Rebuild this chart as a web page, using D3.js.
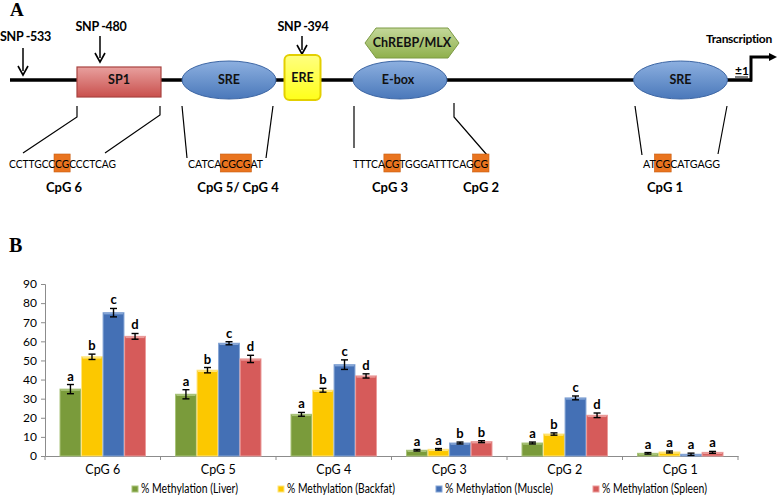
<!DOCTYPE html>
<html>
<head>
<meta charset="utf-8">
<script src="https://cdn.jsdelivr.net/npm/d3@7"></script>
<style>
  body { margin: 0; background: #fff; }
  svg { font-family: Lato, "Open Sans", sans-serif; }
</style>
</head>
<body>
<script>
// data for panel B
var categories = ["CpG 6", "CpG 5", "CpG 4", "CpG 3", "CpG 2", "CpG 1"];
var tissues = ["% Methylation (Liver)", "% Methylation (Backfat)", "% Methylation (Muscle)", "% Methylation (Spleen)"];
var liver   = [35.0, 32.3, 21.8, 3.0, 6.8, 1.4];
var backfat = [51.9, 44.9, 34.4, 3.5, 11.5, 2.1];
var muscle  = [75.0, 59.0, 47.8, 6.8, 30.4, 0.9];
var spleen  = [62.6, 50.8, 41.9, 7.5, 21.3, 1.9];
var liverErr   = [2.4, 2.4, 1.0, 0.4, 0.5, 0.4];
var backfatErr = [1.4, 1.4, 1.0, 0.4, 0.6, 0.5];
var muscleErr  = [2.2, 0.8, 2.5, 0.5, 1.0, 0.6];
var spleenErr  = [1.5, 1.9, 1.1, 0.5, 1.2, 0.5];
var letters = [["a","b","c","d"], ["a","b","c","d"], ["a","b","c","d"], ["a","a","b","b"], ["a","b","c","d"], ["a","a","a","a"]];
var yTicks = [0, 10, 20, 30, 40, 50, 60, 70, 80, 90];

var values = [liver, backfat, muscle, spleen];
var errors = [liverErr, backfatErr, muscleErr, spleenErr];
var colors = ["#7a9b3b", "#fcc800", "#4470b5", "#d65b5a"];
var edge = ["#a9c47a", "#ffe680", "#86a6d6", "#eb9c9b"];

var width = 778, height = 497;
var svg = d3.select("body").append("svg").attr("width", width).attr("height", height);
var defs = svg.append("defs");

function vGrad(id, c1, c2) {
    var g = defs.append("linearGradient").attr("id", id).attr("x1", 0).attr("y1", 0).attr("x2", 0).attr("y2", 1);
    g.append("stop").attr("offset", "0%").attr("stop-color", c1);
    g.append("stop").attr("offset", "100%").attr("stop-color", c2);
}
vGrad("gRed", "#e8a09e", "#c9504d");
vGrad("gBlue", "#8db0e0", "#4a78ba");
vGrad("gGreen", "#c4d89a", "#8fb04c");
vGrad("gYellow", "#ffff80", "#ffff1a");

// ---------- Panel A : promoter schematic ----------
var A = svg.append("g");
A.append("text").attr("x", 10).attr("y", 16).attr("font-family", "Liberation Serif, serif")
    .attr("font-weight", "bold").attr("font-size", 19).text("A");

var lineY = 80;
A.append("line").attr("x1", 10).attr("x2", 752).attr("y1", lineY).attr("y2", lineY)
    .attr("stroke", "#000").attr("stroke-width", 3.5);
// transcription start arrow
A.append("path").attr("d", "M751,81.5 V57 H770").attr("fill", "none").attr("stroke", "#000").attr("stroke-width", 3);
A.append("path").attr("d", "M769,53 L777,57 L769,61 Z").attr("fill", "#000");
A.append("text").attr("x", 735).attr("y", 75).attr("font-weight", "bold").attr("font-size", 12).text("±1");
A.append("line").attr("x1", 735).attr("x2", 748).attr("y1", 77).attr("y2", 77).attr("stroke", "#000").attr("stroke-width", 1);
A.append("text").attr("x", 739).attr("y", 43).attr("text-anchor", "middle").attr("font-weight", "bold")
    .attr("font-size", 12).attr("letter-spacing", -0.3).text("Transcription");

// SNP arrows
var snps = [{label: "SNP -533", x: 23, ty: 41, y1: 48, y2: 75},
            {label: "SNP -480", x: 100, ty: 31, y1: 36, y2: 62},
            {label: "SNP -394", x: 302, ty: 31, y1: 36, y2: 54}];
snps.forEach(function (s, i) {
    A.append("text").attr("x", i == 0 ? 0 : s.x + 1).attr("y", s.ty).attr("text-anchor", i == 0 ? "start" : "middle")
        .attr("font-weight", "bold").attr("font-size", 12.5).attr("letter-spacing", -0.3).text(s.label);
    A.append("line").attr("x1", s.x).attr("x2", s.x).attr("y1", s.y1).attr("y2", s.y2 - 4)
        .attr("stroke", "#000").attr("stroke-width", 1.5);
    A.append("path").attr("d", "M" + (s.x - 5) + "," + (s.y2 - 9) + " L" + s.x + "," + s.y2 + " L" + (s.x + 5) + "," + (s.y2 - 9))
        .attr("fill", "none").attr("stroke", "#000").attr("stroke-width", 1.6);
});

// SP1 box
A.append("rect").attr("x", 77).attr("y", 67).attr("width", 84).attr("height", 30)
    .attr("fill", "url(#gRed)").attr("stroke", "#a84340").attr("stroke-width", 1.2);
// ellipses
[229, 400, 680.5].forEach(function (cx) {
    A.append("ellipse").attr("cx", cx).attr("cy", lineY).attr("rx", 47).attr("ry", 19)
        .attr("fill", "url(#gBlue)").attr("stroke", "#3d66a4").attr("stroke-width", 1);
});
// ERE box
A.append("rect").attr("x", 284.5).attr("y", 55).attr("width", 36).attr("height", 45).attr("rx", 5)
    .attr("fill", "url(#gYellow)").attr("stroke", "#e3cf00").attr("stroke-width", 2);
// ChREBP/MLX hexagon
A.append("path").attr("d", "M365,43 L376,28 L448,28 L459,43 L448,58 L376,58 Z")
    .attr("fill", "url(#gGreen)").attr("stroke", "#7c9a45").attr("stroke-width", 1);

var boxLabels = [{x: 119, y: 80, t: "SP1"}, {x: 229, y: 80, t: "SRE"}, {x: 302.5, y: 78, t: "ERE"},
                 {x: 398, y: 80, t: "E-box"}, {x: 412, y: 43, t: "ChREBP/MLX"}, {x: 680.5, y: 80, t: "SRE"}];
boxLabels.forEach(function (b) {
    A.append("text").attr("x", b.x).attr("y", b.y).attr("dy", "0.35em").attr("text-anchor", "middle")
        .attr("font-weight", "bold").attr("font-size", 12.5).attr("fill", "#111").text(b.t);
});

// connector lines
var connectors = ["M77,106 V117 L23,153", "M160,106 V115 L105,153", "M182,106 L187,158", "M273,106 L266,158",
                  "M354,106 V148", "M454,103 V117 L487,155", "M635,106 L642,155", "M727,106 L718,154"];
connectors.forEach(function (d) {
    A.append("path").attr("d", d).attr("fill", "none").attr("stroke", "#000").attr("stroke-width", 1.2);
});

// sequences with highlighted CG
var seqs = [{x: 9, w: 107, parts: ["CCTTGCC", "CG", "CCCTCAG"]},
            {x: 188, w: 75, parts: ["CATCA", "CGCG", "AT"]},
            {x: 353, w: 135, parts: ["TTTCA", "CG", "TGGGATTTCAG", "CG"]},
            {x: 643, w: 77, parts: ["AT", "CG", "CATGAGG"]}];
seqs.forEach(function (s) {
    var hl = A.append("g");
    var t = A.append("text").attr("x", s.x).attr("y", 168).attr("font-size", 12)
        .attr("textLength", s.w).attr("lengthAdjust", "spacingAndGlyphs").text(s.parts.join(""));
    var pos = 0;
    s.parts.forEach(function (p, i) {
        if (i % 2 == 1) {
            var x0 = t.node().getStartPositionOfChar(pos).x;
            var x1 = t.node().getEndPositionOfChar(pos + p.length - 1).x;
            hl.append("rect").attr("x", x0 - 1).attr("y", 154).attr("width", x1 - x0 + 2).attr("height", 18)
                .attr("fill", "#e9741f").attr("stroke", "#c85e12").attr("stroke-width", 0.6);
        }
        pos += p.length;
    });
});
var cpgLabels = [{x: 64, t: "CpG 6"}, {x: 238, t: "CpG 5/ CpG 4"}, {x: 390, t: "CpG 3"}, {x: 481, t: "CpG 2"}, {x: 665, t: "CpG 1"}];
cpgLabels.forEach(function (c) {
    A.append("text").attr("x", c.x).attr("y", 192).attr("text-anchor", "middle").attr("font-weight", "bold")
        .attr("font-size", 13).text(c.t);
});

// ---------- Panel B : bar chart ----------
svg.append("text").attr("x", 9).attr("y", 252).attr("font-family", "Liberation Serif, serif")
    .attr("font-weight", "bold").attr("font-size", 20).text("B");

var chartLeft = 45, chartRight = 738, chartTop = 284, chartBottom = 456;
var chart = svg.append("g");
var x0 = d3.scaleBand().domain(categories).range([chartLeft, chartRight]);
var x1 = d3.scaleBand().domain(tissues).range([15, x0.bandwidth() - 15]).paddingInner(0.03);
var y = d3.scaleLinear().domain([0, 90]).range([chartBottom, chartTop]);

var yAxis = chart.append("g").attr("transform", "translate(" + chartLeft + ",0)")
    .call(d3.axisLeft(y).tickValues(yTicks).tickSize(4).tickPadding(4));
yAxis.select(".domain").attr("stroke", "#8c8c8c");
yAxis.selectAll(".tick line").attr("stroke", "#8c8c8c");
yAxis.selectAll("text").attr("font-family", "Lato, sans-serif").attr("font-size", 12).attr("fill", "#000");

var xAxis = chart.append("g").attr("transform", "translate(0," + chartBottom + ")")
    .call(d3.axisBottom(x0).tickSize(0).tickPadding(9));
xAxis.select(".domain").attr("stroke", "#8c8c8c");
xAxis.selectAll("text").attr("font-family", "Lato, sans-serif").attr("font-size", 12.5).attr("fill", "#000");
// boundary ticks between categories
chart.selectAll(".btick").data(d3.range(categories.length + 1)).enter().append("line")
    .attr("x1", function (i) { return chartLeft + i * x0.bandwidth(); })
    .attr("x2", function (i) { return chartLeft + i * x0.bandwidth(); })
    .attr("y1", chartBottom).attr("y2", chartBottom + 4).attr("stroke", "#8c8c8c");

categories.forEach(function (cat, ci) {
    var g = chart.append("g").attr("transform", "translate(" + x0(cat) + ",0)");
    tissues.forEach(function (t, ti) {
        var v = values[ti][ci], e = errors[ti][ci];
        var bx = x1(t), bw = x1.bandwidth();
        g.append("rect").attr("x", bx).attr("y", y(v)).attr("width", bw).attr("height", y(0) - y(v))
            .attr("fill", colors[ti]).attr("stroke", edge[ti]).attr("stroke-width", 1);
        g.append("line").attr("x1", bx + 1).attr("x2", bx + bw - 1).attr("y1", y(v) + 1).attr("y2", y(v) + 1)
            .attr("stroke", edge[ti]).attr("stroke-width", 1.5);
        var cx = bx + bw / 2;
        g.append("line").attr("x1", cx).attr("x2", cx).attr("y1", y(v + e)).attr("y2", y(Math.max(0, v - e)))
            .attr("stroke", "#000").attr("stroke-width", 1.4);
        [v + e, Math.max(0, v - e)].forEach(function (ev) {
            g.append("line").attr("x1", cx - 3.5).attr("x2", cx + 3.5).attr("y1", y(ev)).attr("y2", y(ev))
                .attr("stroke", "#000").attr("stroke-width", 1.4);
        });
        g.append("text").attr("x", cx).attr("y", y(v + e) - 4).attr("text-anchor", "middle")
            .attr("font-weight", "bold").attr("font-size", 13).text(letters[ci][ti]);
    });
});

// legend
var legendX = [132, 278, 436, 593];
var legendW = [97, 108, 108, 105];
tissues.forEach(function (t, i) {
    var lg = svg.append("g").attr("transform", "translate(" + legendX[i] + ",489)");
    lg.append("rect").attr("x", 0).attr("y", -3).attr("width", 6).attr("height", 6)
        .attr("fill", colors[i]).attr("stroke", edge[i]).attr("stroke-width", 1);
    lg.append("text").attr("x", 9).attr("y", 0).attr("dy", "0.33em").attr("font-size", 12.5)
        .attr("textLength", legendW[i]).attr("lengthAdjust", "spacingAndGlyphs").text(t);
});
</script>
</body>
</html>
